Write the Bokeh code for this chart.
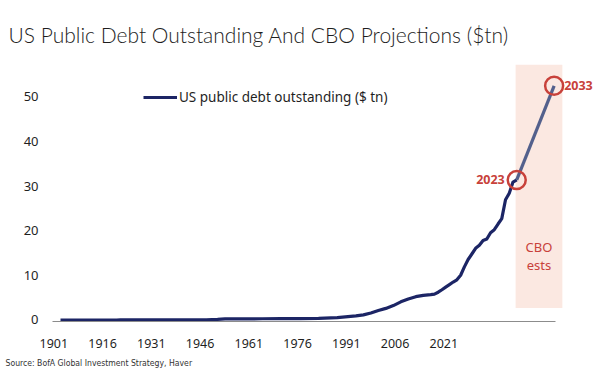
from bokeh.plotting import figure
from bokeh.models import (Range1d, LinearAxis, FixedTicker, BoxAnnotation, Label,
                          Legend, LegendItem, ColumnDataSource, Title)
from bokeh.embed import file_html
from bokeh.resources import INLINE

# ---- data (US public debt outstanding, $ tn) ----
years = [1901, 1910, 1916, 1917, 1918, 1919, 1920, 1925, 1930, 1935, 1940, 1943, 1945,
         1946, 1950, 1955, 1960, 1965, 1970, 1975, 1980, 1982, 1984, 1986, 1988, 1990,
         1992, 1994, 1996, 1998, 2000, 2001, 2002, 2003, 2004, 2005, 2006, 2007, 2008,
         2009, 2010, 2011, 2012, 2013, 2014, 2015, 2016, 2017, 2018, 2019, 2020, 2021,
         2022, 2023]
debt = [0.001, 0.001, 0.001, 0.003, 0.012, 0.025, 0.024, 0.021, 0.016, 0.029, 0.043, 0.137,
        0.259, 0.269, 0.257, 0.274, 0.291, 0.322, 0.381, 0.542, 0.908, 1.142, 1.572, 2.125,
        2.602, 3.233, 4.065, 4.693, 5.225, 5.526, 5.674, 5.807, 6.228, 6.783, 7.379, 7.933,
        8.507, 9.008, 10.025, 11.910, 13.562, 14.790, 16.066, 16.738, 17.824, 18.151,
        19.573, 20.245, 21.516, 22.719, 26.945, 28.429, 30.929, 31.4]
proj_years = [2023, 2033]
proj_debt = [31.4, 52.5]
marked_years = [2023, 2033]
marked_debt = [31.4, 52.5]
marked_labels = ["2023", "2033"]
x_tick_labels = [1901, 1916, 1931, 1946, 1961, 1976, 1991, 2006, 2021]
y_ticks = [0, 10, 20, 30, 40, 50]
cbo_years = [2022.7, 2035.2]
cbo_band = [2.7, 57.2]

NAVY = "#1c2565"
PROJ = "#53608c"
RED = "#c8413a"
TXT = "#1f1f1f"

p = figure(width=600, height=382, title=None,
           x_range=Range1d(1898.86, 2045.4), y_range=Range1d(-0.34, 58.18),
           x_axis_location=None, output_backend="svg", toolbar_location=None,
           min_border_left=52, min_border_right=0, min_border_top=60, min_border_bottom=61)
p.outline_line_color = None
p.xgrid.visible = False
p.ygrid.visible = False
p.background_fill_color = "white"

# label axis (tick labels as printed on the original chart)
p.extra_x_ranges = {"lab": Range1d(1900.6, 2069.2)}
xa = LinearAxis(x_range_name="lab", ticker=FixedTicker(ticks=x_tick_labels),
                bounds=(1900.6, 2055.4))
xa.axis_line_color = "#8c8c8c"
xa.axis_line_width = 1
xa.major_tick_line_color = None
xa.minor_tick_line_color = None
xa.major_label_standoff = 11
xa.major_label_text_font = "Noto Sans"
xa.major_label_text_font_size = "12.5px"
xa.major_label_text_color = TXT
p.add_layout(xa, "below")

ya = p.yaxis[0]
ya.ticker = FixedTicker(ticks=y_ticks)
ya.axis_line_color = None
ya.major_tick_line_color = None
ya.minor_tick_line_color = None
ya.major_label_standoff = 8
ya.major_label_text_font = "Noto Sans"
ya.major_label_text_font_size = "13px"
ya.major_label_text_color = TXT

# CBO shaded band
p.add_layout(BoxAnnotation(left=cbo_years[0], right=cbo_years[1], bottom=cbo_band[0],
                           top=cbo_band[1], fill_color="#fbe8e1", fill_alpha=1.0,
                           line_color=None, level="underlay"))

src = ColumnDataSource(dict(x=years, y=debt))
r_hist = p.line("x", "y", source=src, line_color=NAVY, line_width=3.2, line_join="round")
p.line(proj_years, proj_debt, line_color=PROJ, line_width=3.2, line_join="round")
p.scatter(marked_years, marked_debt, size=18, fill_color=None, line_color=RED, line_width=2.5)

p.add_layout(Label(x=marked_years[0], y=marked_debt[0], text=marked_labels[0], x_offset=-12,
                   text_align="right", text_baseline="middle", text_color=RED,
                   text_font="Noto Sans", text_font_size="12.5px", text_font_style="bold"))
p.add_layout(Label(x=marked_years[1], y=marked_debt[1], text=marked_labels[1], x_offset=10,
                   text_align="left", text_baseline="middle", text_color=RED,
                   text_font="Noto Sans", text_font_size="12.5px", text_font_style="bold"))

cbo_mid = (cbo_years[0] + cbo_years[1]) / 2
for t, yv in [("CBO", 16.3), ("ests", 12.4)]:
    p.add_layout(Label(x=cbo_mid, y=yv, text=t, text_align="center", text_baseline="middle",
                       text_color=RED, text_font="Noto Sans", text_font_size="13px"))

legend = Legend(items=[LegendItem(label="US public debt outstanding ($ tn)", renderers=[r_hist])],
                location=(91, 214), padding=0, spacing=0, margin=0,
                glyph_width=34, glyph_height=20, label_standoff=2,
                label_text_font="Noto Sans", label_text_font_size="13.5px",
                label_text_color=TXT, border_line_alpha=0, background_fill_alpha=0)
p.add_layout(legend, "center")

# title and source
p.add_layout(Title(text="US Public Debt Outstanding And CBO Projections ($tn)",
                   align="left", offset=-44, standoff=28,
                   text_font="'Lato Light', Lato", text_font_size="21px",
                   text_font_style="normal", text_color="#1e1e1e"), "above")
p.add_layout(Title(text="Source:  BofA Global Investment Strategy, Haver",
                   align="left", offset=-47, standoff=10,
                   text_font="'DejaVu Sans Condensed', 'Liberation Sans Narrow', Roboto",
                   text_font_size="8.6px",
                   text_font_style="normal", text_color="#333333"), "below")

open("out.html", "w").write(file_html(p, INLINE))
